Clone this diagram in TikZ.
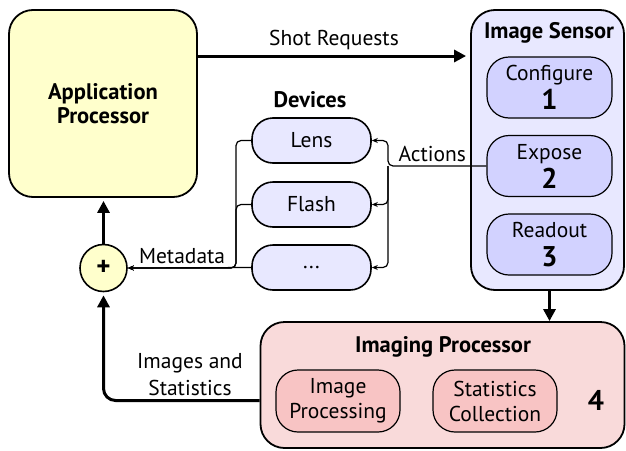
\documentclass[tikz,border=0pt]{standalone}
\usepackage{fontspec}
\setmainfont{PT Sans}
\usepackage{xcolor}
\usepackage{tikz}
\usetikzlibrary{arrows.meta,positioning,calc}

\definecolor{appyellow}{HTML}{FFFFCC}
\definecolor{sensorbg}{HTML}{E8E8FF}
\definecolor{sensorstep}{HTML}{D2D2FF}
\definecolor{ispbg}{HTML}{F9DADA}
\definecolor{ispstep}{HTML}{F8C4C4}

\newcommand{\stepfont}{\fontsize{28.5}{28.5}\selectfont\bfseries}
\newcommand{\bodyfont}{\fontsize{21.5}{25}\selectfont}
\newcommand{\titlefont}{\fontsize{22.5}{24}\selectfont\bfseries}

\tikzset{
    bigbox/.style={draw, line width=1.8pt, rounded corners=24pt, inner sep=0pt},
    stepbox/.style={draw, line width=1.2pt, rounded corners=22pt, inner sep=0pt, align=center,
        minimum width=125pt, minimum height=61pt},
    devbox/.style={draw, line width=1.6pt, rounded corners=21pt, inner sep=0pt, fill=sensorbg,
        minimum width=119pt, minimum height=45pt},
    bigarrow/.style={line width=3pt, -{Triangle[length=12pt,width=12pt]}},
    smallarrow/.style={line width=1.2pt, -{Stealth[length=6pt,width=5pt]}},
    stepnum/.style={font=\stepfont},
    title/.style={font=\titlefont},
}

\begin{document}
\begin{tikzpicture}[x=1pt,y=-1pt,font=\bodyfont]
    \useasboundingbox (0,0) rectangle (626,450);

    % processors and sensor
    \node[bigbox, fill=appyellow, minimum width=188pt, minimum height=187pt, align=center,
        title] (app) at (103,103.5) {Application\\Processor};
    \node[bigbox, fill=sensorbg, minimum width=153pt, minimum height=280pt] (sensor) at (547.5,150) {};
    \node[title] (sensortitle) at (549,33) {Image Sensor};
    \node[stepbox, fill=sensorstep] (configure) at (549.5,87.5) {Configure\\[4pt]{\stepfont 1}};
    \node[stepbox, fill=sensorstep] (expose) at (549.5,166) {Expose\\[4pt]{\stepfont 2}};
    \node[stepbox, fill=sensorstep] (readout) at (549.5,244.5) {Readout\\[4pt]{\stepfont 3}};

    \node[bigbox, fill=ispbg, minimum width=364pt, minimum height=126pt] (isp) at (442.5,385) {};
    \node[title] (isptitle) at (443,347) {Imaging Processor};
    \node[stepbox, fill=ispstep, minimum width=124pt, minimum height=62pt] (imgproc) at (338,401) {Image\\Processing};
    \node[stepbox, fill=ispstep, minimum width=124pt, minimum height=62pt] (stats) at (495,401) {Statistics\\Collection};
    \node[stepnum] (ispnum) at (596,400) {4};

    % devices
    \node[title] (devtitle) at (310,100) {Devices};
    \node[devbox] (lens) at (311.5,140.5) {Lens};
    \node[devbox] (flash) at (311.5,204.5) {Flash};
    \node[devbox] (more) at (311.5,267.5) {...};

    \node[draw, circle, line width=1.6pt, fill=appyellow, minimum size=47pt, inner sep=0pt,
        font=\fontsize{27}{27}\selectfont\bfseries] (plus) at (103.5,268) {+};

    \coordinate (meta) at (236,268);
    \coordinate (act) at (388,166);

    % connectors
    \draw[bigarrow, shorten >=4pt] (app.east |- 0,56) -- node[above=1pt] {Shot Requests} (sensor.west |- 0,56);
    \draw[bigarrow] (readout.south |- sensor.south) -- (readout.south |- isp.north);
    \draw[bigarrow, shorten >=3pt] (plus.north) -- (app.south -| plus.north);
    \draw[bigarrow, rounded corners=12pt, shorten >=3pt] (isp.west |- 0,400.5) -| (plus.south);
    \node[align=center, font=\fontsize{21.5}{27}\selectfont] (imgstats) at (190,375) {Images and\\Statistics};

    \draw[smallarrow] (more.west) -- node[pos=0.56, above=0pt] {Metadata} (plus.east);
    \draw[smallarrow, rounded corners=5pt] (lens.west) -| (meta) -- (plus.east);
    \draw[smallarrow, rounded corners=5pt] (flash.west) -| (meta) -- (plus.east);

    \draw[smallarrow, rounded corners=5pt] (expose.west) -- node[pos=0.55, above=0pt] {Actions} (act) |- (lens.east);
    \draw[smallarrow, rounded corners=5pt] (act) |- (flash.east);
    \draw[smallarrow, rounded corners=5pt] (act) |- (more.east);
\end{tikzpicture}
\end{document}
